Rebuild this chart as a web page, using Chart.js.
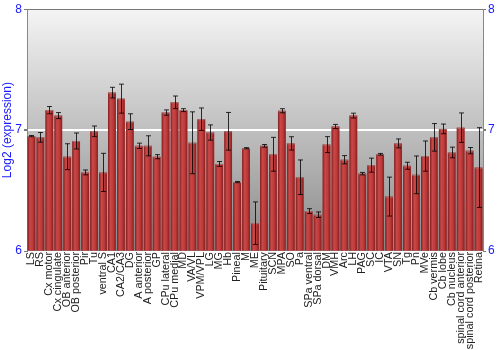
<!DOCTYPE html>
<html>
<head>
<meta charset="utf-8">
<script src="https://cdn.jsdelivr.net/npm/chart.js@4/dist/chart.umd.min.js"></script>
<style>
    html, body { margin: 0; padding: 0; background: #fff; }
    #wrap { width: 500px; height: 350px; }
</style>
</head>
<body>
<div id="wrap"><canvas id="expressionChart"></canvas></div>
<script>
const regions = ['LS', 'RS', 'Cx motor', 'Cx cingulate', 'OB anterior', 'OB posterior', 'Pir', 'Tu',
    'ventral S', 'CA1', 'CA2/CA3', 'DG', 'A anterior', 'A posterior', 'GP', 'CPu lateral', 'CPu medial',
    'MD', 'VA/VL', 'VPM/VPL', 'LG', 'MG', 'Hb', 'Pineal', 'M', 'ME', 'Pituitary', 'SCN', 'MPA', 'SO',
    'Pa', 'SPa ventral', 'SPa dorsal', 'DM', 'VMH', 'Arc', 'LH', 'PAG', 'SC', 'IC', 'VTA', 'SN', 'Tg',
    'Pn', 'MVe', 'Cb vermis', 'Cb lobe', 'Cb nucleus', 'spinal cord anterior', 'spinal cord posterior', 'Retina'];

const expression = [6.95, 6.94, 7.165, 7.12, 6.78, 6.91, 6.65, 6.99,
    6.65, 7.31, 7.26, 7.07, 6.87, 6.87, 6.78, 7.145, 7.23,
    7.165, 6.895, 7.09, 6.98, 6.72, 6.99, 6.57, 6.85, 6.23, 6.87, 6.80, 7.16, 6.89,
    6.61, 6.33, 6.30, 6.88, 7.03, 6.755, 7.12, 6.64, 6.71, 6.80, 6.45, 6.89, 6.705,
    6.63, 6.785, 6.94, 7.01, 6.815, 7.02, 6.83, 6.69];

const errors = [0.005, 0.04, 0.03, 0.025, 0.107, 0.066, 0.02, 0.044,
    0.158, 0.044, 0.12, 0.065, 0.022, 0.083, 0.017, 0.022, 0.052,
    0.012, 0.256, 0.093, 0.063, 0.02, 0.156, 0.005, 0.005, 0.176, 0.011, 0.14, 0.017, 0.055,
    0.143, 0.02, 0.023, 0.066, 0.017, 0.034, 0.02, 0.01, 0.058, 0.007, 0.161, 0.037, 0.029,
    0.156, 0.125, 0.114, 0.04, 0.044, 0.122, 0.026, 0.33];

const yTicks = [6, 7, 8];

const backgroundPlugin = {
    id: 'plotBackground',
    beforeDraw(chart) {
        const { ctx, chartArea: a } = chart;
        const g = ctx.createLinearGradient(0, a.top, 0, a.bottom);
        g.addColorStop(0, '#f4f4f4');
        g.addColorStop(1, '#8a8a8a');
        ctx.save();
        ctx.fillStyle = g;
        ctx.fillRect(a.left, a.top, a.right - a.left, a.bottom - a.top);
        ctx.restore();
    }
};

// shade each bar like a cylinder, then put the error bars on top
const barDecorPlugin = {
    id: 'barDecor',
    afterDatasetsDraw(chart) {
        const { ctx, chartArea: a } = chart;
        const meta = chart.getDatasetMeta(0);
        const y = chart.scales.y;
        ctx.save();
        ctx.beginPath();
        ctx.rect(a.left, a.top, a.right - a.left, a.bottom - a.top);
        ctx.clip();
        meta.data.forEach(bar => {
            const { x, y: top, base, width } = bar.getProps(['x', 'y', 'base', 'width'], true);
            const l = x - width / 2;
            const g = ctx.createLinearGradient(l, 0, l + width, 0);
            g.addColorStop(0, '#7e1e1e');
            g.addColorStop(0.3, '#c94848');
            g.addColorStop(0.65, '#bf3a3a');
            g.addColorStop(1, '#861f1f');
            ctx.fillStyle = g;
            ctx.fillRect(l, top, width, base - top);
            ctx.strokeStyle = 'rgba(150,150,150,0.6)';
            ctx.lineWidth = 1;
            ctx.beginPath();
            ctx.moveTo(l, top + 0.5);
            ctx.lineTo(l + width, top + 0.5);
            ctx.stroke();
        });
        ctx.strokeStyle = 'rgba(0,0,0,0.8)';
        ctx.lineWidth = 1;
        meta.data.forEach((bar, i) => {
            const x = Math.round(bar.x) + 0.5;
            const hi = y.getPixelForValue(expression[i] + errors[i]);
            const lo = y.getPixelForValue(expression[i] - errors[i]);
            ctx.beginPath();
            ctx.moveTo(x, hi);
            ctx.lineTo(x, lo);
            ctx.moveTo(x - 2.5, hi);
            ctx.lineTo(x + 2.5, hi);
            ctx.moveTo(x - 2.5, lo);
            ctx.lineTo(x + 2.5, lo);
            ctx.stroke();
        });
        ctx.restore();
    }
};

function yAxis(position, width) {
    return {
        position: position,
        min: 6,
        max: 8,
        afterBuildTicks: scale => { scale.ticks = yTicks.map(v => ({ value: v })); },
        afterFit: scale => { scale.width = width; },
        grid: {
            drawOnChartArea: position === 'left',
            color: ctx => ctx.tick && ctx.tick.value === 7 ? '#ffffff' : (ctx.tick && ctx.tick.value === 8 ? '#777777' : 'rgba(0,0,0,0)'),
            lineWidth: ctx => ctx.tick && ctx.tick.value === 7 ? 2 : 1,
            tickColor: '#777777',
            tickLength: 3
        },
        border: { display: true, color: '#888888' },
        ticks: {
            color: '#1a1aff',
            padding: 2,
            font: { family: 'Liberation Sans', size: 12 }
        },
        title: {
            display: position === 'left',
            text: 'Log2 (expression)',
            color: '#1a1aff',
            padding: 0,
            font: { family: 'Liberation Sans', size: 12 }
        }
    };
}

function initExpressionChart() {
    const ctx = document.getElementById('expressionChart').getContext('2d');

    new Chart(ctx, {
        type: 'bar',
        data: {
            labels: regions,
            datasets: [{
                data: expression,
                base: 6,
                backgroundColor: '#c03c3c',
                borderWidth: 0,
                barPercentage: 0.86,
                categoryPercentage: 1.0
            }]
        },
        options: {
            responsive: true,
            maintainAspectRatio: false,
            animation: false,
            layout: { padding: { top: 9, right: 0, left: 0, bottom: 0 } },
            plugins: {
                legend: { display: false },
                tooltip: { enabled: false }
            },
            scales: {
                x: {
                    afterFit: scale => { scale.height = 99; },
                    grid: { drawOnChartArea: false, drawTicks: false },
                    border: { display: false },
                    ticks: {
                        autoSkip: false,
                        minRotation: 90,
                        maxRotation: 90,
                        padding: 1,
                        color: '#222222',
                        font: { family: 'Liberation Sans', size: 10.8 }
                    }
                },
                y: yAxis('left', 27),
                y2: yAxis('right', 17)
            }
        },
        plugins: [backgroundPlugin, barDecorPlugin]
    });
}

document.addEventListener('DOMContentLoaded', initExpressionChart);
</script>
</body>
</html>
